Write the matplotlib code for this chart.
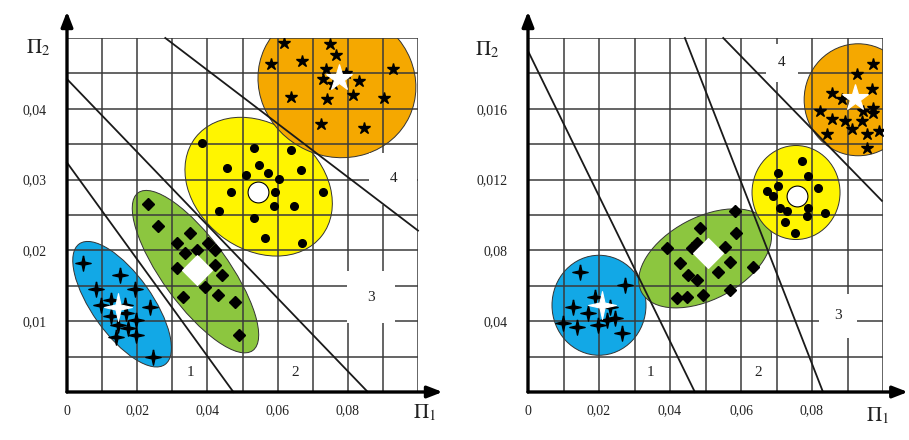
import numpy as np
import matplotlib
matplotlib.use("Agg")
import matplotlib.pyplot as plt
from matplotlib.patches import Ellipse
import matplotlib.transforms as mtransforms

plt.rcParams['font.family'] = ['Liberation Serif', 'DejaVu Serif']
plt.rcParams['mathtext.fontset'] = 'stix'

# ---------------- data: left panel ----------------
L_xticks = [0.0, 0.02, 0.04, 0.06, 0.08]
L_xlabels = ["0", "0,02", "0,04", "0,06", "0,08"]
L_yticks = [0.01, 0.02, 0.03, 0.04]
L_ylabels = ["0,01", "0,02", "0,03", "0,04"]

L_blue_x = [0.0046, 0.0151, 0.0083, 0.0194, 0.0126, 0.0097, 0.0237, 0.0126, 0.0169, 0.0197, 0.0146, 0.0174, 0.0140, 0.0197, 0.0246, 0.0166]
L_blue_y = [0.0182, 0.0165, 0.0146, 0.0146, 0.0130, 0.0123, 0.0120, 0.0108, 0.0111, 0.0101, 0.0094, 0.0090, 0.0077, 0.0080, 0.0049, 0.0123]
L_blue_c = (0.0146, 0.0120)

L_green_x = [0.0231, 0.0260, 0.0351, 0.0314, 0.0403, 0.0337, 0.0371, 0.0423, 0.0314, 0.0423, 0.0443, 0.0394, 0.0331, 0.0431, 0.0480, 0.0489]
L_green_y = [0.0266, 0.0235, 0.0225, 0.0211, 0.0211, 0.0197, 0.0200, 0.0200, 0.0175, 0.0179, 0.0165, 0.0148, 0.0134, 0.0137, 0.0127, 0.0080]
L_green_c = (0.0371, 0.0172)

L_yellow_x = [0.0386, 0.0534, 0.0637, 0.0457, 0.0546, 0.0666, 0.0509, 0.0574, 0.0603, 0.0466, 0.0594, 0.0729, 0.0434, 0.0591, 0.0646, 0.0534, 0.0563, 0.0669]
L_yellow_y = [0.0352, 0.0345, 0.0342, 0.0317, 0.0320, 0.0313, 0.0307, 0.0310, 0.0301, 0.0282, 0.0282, 0.0282, 0.0256, 0.0263, 0.0263, 0.0246, 0.0218, 0.0211]
L_yellow_c = (0.0543, 0.0282)

L_orange_x = [0.0617, 0.0749, 0.0766, 0.0580, 0.0669, 0.0737, 0.0729, 0.0794, 0.0831, 0.0757, 0.0929, 0.0637, 0.0740, 0.0814, 0.0903, 0.0723, 0.0846]
L_orange_y = [0.0493, 0.0492, 0.0476, 0.0463, 0.0468, 0.0456, 0.0442, 0.0451, 0.0439, 0.0435, 0.0456, 0.0417, 0.0414, 0.0420, 0.0415, 0.0379, 0.0373]
L_orange_c = (0.0774, 0.0444)

L_lines = [((0.0, 0.0324), (0.0474, 0.0)),
           ((0.0, 0.0442), (0.0857, 0.0)),
           ((0.028, 0.05), (0.10, 0.0228))]

# ---------------- data: right panel ----------------
R_xticks = [0.0, 0.02, 0.04, 0.06, 0.08]
R_xlabels = ["0", "0,02", "0,04", "0,06", "0,08"]
R_yticks = [0.004, 0.008, 0.012, 0.016]
R_ylabels = ["0,04", "0,08", "0,012", "0,016"]

R_blue_x = [0.0146, 0.0273, 0.0189, 0.0127, 0.0169, 0.0231, 0.0245, 0.0099, 0.0138, 0.0197, 0.0223, 0.0265]
R_blue_y = [0.00676, 0.00603, 0.00535, 0.00479, 0.00445, 0.00479, 0.00417, 0.00389, 0.00366, 0.00377, 0.00406, 0.00332]
R_blue_c = (0.0208, 0.00490)

R_green_x = [0.0583, 0.0485, 0.0586, 0.0392, 0.0462, 0.0476, 0.0555, 0.0428, 0.0569, 0.0535, 0.0634, 0.0451, 0.0476, 0.0569, 0.0420, 0.0448, 0.0493]
R_green_y = [0.01025, 0.00924, 0.00901, 0.00811, 0.00811, 0.00839, 0.00817, 0.00727, 0.00732, 0.00676, 0.00704, 0.00659, 0.00631, 0.00575, 0.00530, 0.00535, 0.00546]
R_green_c = (0.0507, 0.00783)

R_yellow_x = [0.0772, 0.0704, 0.0789, 0.0704, 0.0817, 0.0673, 0.0690, 0.0710, 0.0730, 0.0789, 0.0786, 0.0837, 0.0724, 0.0752]
R_yellow_y = [0.01307, 0.01239, 0.01223, 0.01166, 0.01155, 0.01138, 0.01110, 0.01037, 0.01025, 0.01042, 0.00997, 0.01014, 0.00958, 0.00896]
R_yellow_c = (0.0758, 0.01110)

R_orange_x = [0.0972, 0.0927, 0.0856, 0.0885, 0.0969, 0.0972, 0.0972, 0.0823, 0.0944, 0.0856, 0.0893, 0.0941, 0.0913, 0.0842, 0.0955, 0.0990, 0.0955]
R_orange_y = [0.01854, 0.01797, 0.01690, 0.01656, 0.01713, 0.01606, 0.01577, 0.01589, 0.01589, 0.01544, 0.01532, 0.01532, 0.01487, 0.01459, 0.01459, 0.01476, 0.01380]
R_orange_c = (0.0921, 0.01662)

R_lines = [((0.0, 0.01927), (0.047, 0.0)),
           ((0.0442, 0.02), (0.0831, 0.0)),
           ((0.055, 0.02), (0.0997, 0.0108))]

# ---------------- style ----------------
C_BLUE = "#12A8E6"
C_GREEN = "#8CC63F"
C_YELLOW = "#FFF500"
C_ORANGE = "#F5A800"
GRID_C = "#3a3a3a"
TXT_C = "#222222"

STAR4 = [(0, 1), (0.18, 0.18), (1, 0), (0.18, -0.18), (0, -1), (-0.18, -0.18), (-1, 0), (-0.18, 0.18), (0, 1)]

fig = plt.figure(figsize=(9.09, 4.40), dpi=100)
fig.patch.set_facecolor("white")

ax1 = fig.add_axes([67/909, 48/440, 351/909, 354/440])
ax2 = fig.add_axes([528/909, 48/440, 355/909, 354/440])


def ellipse(ax, center, w_px, h_px, angle, color):
    trans = fig.dpi_scale_trans + mtransforms.ScaledTranslation(center[0], center[1], ax.transData)
    e = Ellipse((0, 0), w_px / 100, h_px / 100, angle=angle, transform=trans,
                facecolor=color, edgecolor="#333333", lw=0.7, zorder=1)
    ax.add_patch(e)
    e.set_clip_path(ax.patch)


def setup(ax, xmax, ymax, nx, ny, xticks, xlabels, yticks, ylabels):
    ax.set_xlim(0, xmax)
    ax.set_ylim(0, ymax)
    for s in ax.spines.values():
        s.set_visible(False)
    gx = np.linspace(0, xmax, nx + 1)
    gy = np.linspace(0, ymax, ny + 1)
    ax.vlines(gx[1:], 0, ymax, colors=GRID_C, lw=1.1, zorder=2)
    ax.hlines(gy[1:], 0, xmax, colors=GRID_C, lw=1.1, zorder=2)
    ax.set_xticks(xticks)
    ax.set_xticklabels(xlabels, fontsize=10, color=TXT_C)
    ax.set_yticks(yticks)
    ax.set_yticklabels(ylabels, fontsize=10, color=TXT_C)
    ax.tick_params(length=0, pad=9)
    ax.tick_params(axis='y', pad=15)
    kw = dict(arrowstyle='-|>,head_length=0.9,head_width=0.35', lw=2.4, color='black',
              shrinkA=0, shrinkB=0)
    ax.annotate('', xy=(0, 1.075), xytext=(0, 0), xycoords='axes fraction',
                arrowprops=kw, annotation_clip=False, zorder=5)
    ax.annotate('', xy=(1.07, 0), xytext=(0, 0), xycoords='axes fraction',
                arrowprops=kw, annotation_clip=False, zorder=5)


def region_label(ax, x, y, s, pad):
    ax.text(x, y, s, fontsize=11, color=TXT_C, ha='center', va='center', zorder=2.5,
            bbox=dict(boxstyle='square,pad=%g' % pad, fc='white', ec='none'))


def cluster(ax, xs, ys, c, marker, ms, cmarker, cms, cedge):
    ax.plot(xs, ys, ls='none', marker=marker, ms=ms, color='black', mec='black', zorder=4)
    ax.plot([c[0]], [c[1]], ls='none', marker=cmarker, ms=cms, color='white',
            mec=cedge, mew=0.8, zorder=4.5)


# ---- left panel ----
setup(ax1, 0.10, 0.05, 10, 10, L_xticks, L_xlabels, L_yticks, L_ylabels)
ellipse(ax1, (0.0157, 0.0124), 148, 60, -54.6, C_BLUE)
ellipse(ax1, (0.0366, 0.0170), 195, 66, -54, C_GREEN)
ellipse(ax1, (0.0546, 0.0290), 160, 124, -38, C_YELLOW)
ellipse(ax1, (0.0769, 0.0437), 160, 148, -25, C_ORANGE)
for (p, q) in L_lines:
    ax1.plot([p[0], q[0]], [p[1], q[1]], color="#1a1a1a", lw=1.3, zorder=3, clip_on=False)
region_label(ax1, 0.0351, 0.0027, "1", 0.5)
region_label(ax1, 0.0651, 0.0027, "2", 0.5)
region_label(ax1, 0.0866, 0.0134, "3", 1.3)
region_label(ax1, 0.0929, 0.0301, "4", 1.3)
cluster(ax1, L_blue_x, L_blue_y, L_blue_c, STAR4, 11, STAR4, 20, 'white')
cluster(ax1, L_green_x, L_green_y, L_green_c, 'D', 6.5, 'D', 15, 'white')
cluster(ax1, L_yellow_x, L_yellow_y, L_yellow_c, 'o', 5.5, 'o', 15, 'black')
cluster(ax1, L_orange_x, L_orange_y, L_orange_c, '*', 9, '*', 20, 'white')

# ---- right panel ----
setup(ax2, 0.10, 0.02, 10, 10, R_xticks, R_xlabels, R_yticks, R_ylabels)
ellipse(ax2, (0.0200, 0.00490), 94, 100, 0, C_BLUE)
ellipse(ax2, (0.0499, 0.00755), 144, 82, 28, C_GREEN)
ellipse(ax2, (0.0755, 0.01127), 88, 94, 0, C_YELLOW)
ellipse(ax2, (0.0930, 0.01651), 108, 112, 0, C_ORANGE)
for (p, q) in R_lines:
    ax2.plot([p[0], q[0]], [p[1], q[1]], color="#1a1a1a", lw=1.3, zorder=3, clip_on=False)
region_label(ax2, 0.0346, 0.0011, "1", 0.5)
region_label(ax2, 0.0648, 0.0011, "2", 0.5)
region_label(ax2, 0.0873, 0.0043, "3", 1.0)
region_label(ax2, 0.0715, 0.0186, "4", 0.8)
cluster(ax2, R_blue_x, R_blue_y, R_blue_c, STAR4, 11, STAR4, 20, 'white')
cluster(ax2, R_green_x, R_green_y, R_green_c, 'D', 6.5, 'D', 15, 'white')
cluster(ax2, R_yellow_x, R_yellow_y, R_yellow_c, 'o', 5.5, 'o', 15, 'black')
cluster(ax2, R_orange_x, R_orange_y, R_orange_c, '*', 9, '*', 20, 'white')

# axis titles
fig.text(38/909, 1 - 48/440, r'$\Pi_2$', fontsize=15, color=TXT_C, ha='center', va='center')
fig.text(425/909, 1 - 413/440, r'$\Pi_1$', fontsize=15, color=TXT_C, ha='center', va='center')
fig.text(487/909, 1 - 50/440, r'$\Pi_2$', fontsize=15, color=TXT_C, ha='center', va='center')
fig.text(878/909, 1 - 416/440, r'$\Pi_1$', fontsize=15, color=TXT_C, ha='center', va='center')

fig.savefig("out.png", dpi=100, facecolor="white")
